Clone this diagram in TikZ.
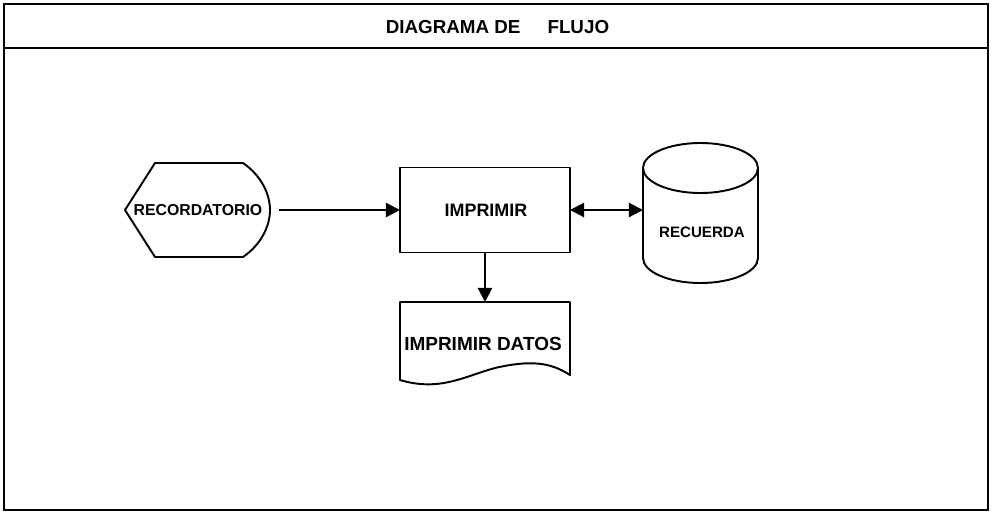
\documentclass[tikz,border=0pt]{standalone}
\usepackage{fontspec}
\setmainfont{Liberation Sans}
\usetikzlibrary{arrows.meta}
\tikzset{
  shapeline/.style={line width=1.1pt, line join=round},
  framebox/.style={line width=1.5pt},
  region/.style={draw=none, inner sep=0pt, outer sep=0pt},
  lbl/.style={font=\bfseries, inner sep=0pt},
  flow/.style={line width=1.2pt, -{Triangle[length=8pt,width=8pt]}},
  flowboth/.style={line width=1.2pt, {Triangle[length=8pt,width=8pt]}-{Triangle[length=8pt,width=8pt]}},
}
\begin{document}
\begin{tikzpicture}[x=0.02cm,y=-0.02cm]
\useasboundingbox (0,0) rectangle (992,525);
% frame
\draw[framebox] (4,4) rectangle (988,510);
\draw[framebox] (4,48) -- (988,48);
\node[lbl, font=\bfseries\fontsize{10.7}{12}\selectfont] (title) at (497.5,27) {DIAGRAMA DE\hspace{0.54cm}FLUJO};
% display shape
\draw[shapeline] (125,210) -- (155,163) -- (243,163) .. controls (262,176) and (270,195) .. (270,210)
  .. controls (270,225) and (262,244) .. (243,257) -- (155,257) -- cycle;
\node[region, minimum width=2.9cm, minimum height=1.88cm] (rec) at (197.5,210) {};
\node[lbl, font=\bfseries\fontsize{9}{11}\selectfont] (rectext) at (198,210) {RECORDATORIO};
% process box
\node[region, draw, shapeline, minimum width=3.4cm, minimum height=1.7cm] (imp) at (485,210) {};
\node[lbl, font=\bfseries\fontsize{10.2}{12}\selectfont] (imptext) at (486,210) {IMPRIMIR};
% cylinder
\draw[shapeline] (643,168) arc[start angle=180, end angle=-180, x radius=57.5, y radius=25];
\draw[shapeline] (643,168) -- (643,258) arc[start angle=180, end angle=0, x radius=57.5, y radius=25] -- (758,168);
\node[region, minimum width=2.3cm, minimum height=2.8cm] (rcd) at (700.5,213) {};
\node[lbl, font=\bfseries\fontsize{8.6}{10}\selectfont] (rcdtext) at (702,232) {RECUERDA};
% document
\draw[shapeline] (400,302) -- (570,302) -- (570,375)
  .. controls (550,362) and (530,360) .. (495,368)
  .. controls (465,376) and (440,392) .. (400,380) -- cycle;
\node[region, minimum width=3.4cm, minimum height=1.66cm] (doc) at (485,343.5) {};
\node[lbl, font=\bfseries\fontsize{10.8}{12}\selectfont] (doctext) at (483,344) {IMPRIMIR DATOS};
% connectors
\draw[flow, shorten <=5pt] (rec.east) -- (imp.west);
\draw[flowboth] (imp.east) -- (imp.east -| rcd.west);
\draw[flow] (imp.south) -- (doc.north);
\end{tikzpicture}
\end{document}
